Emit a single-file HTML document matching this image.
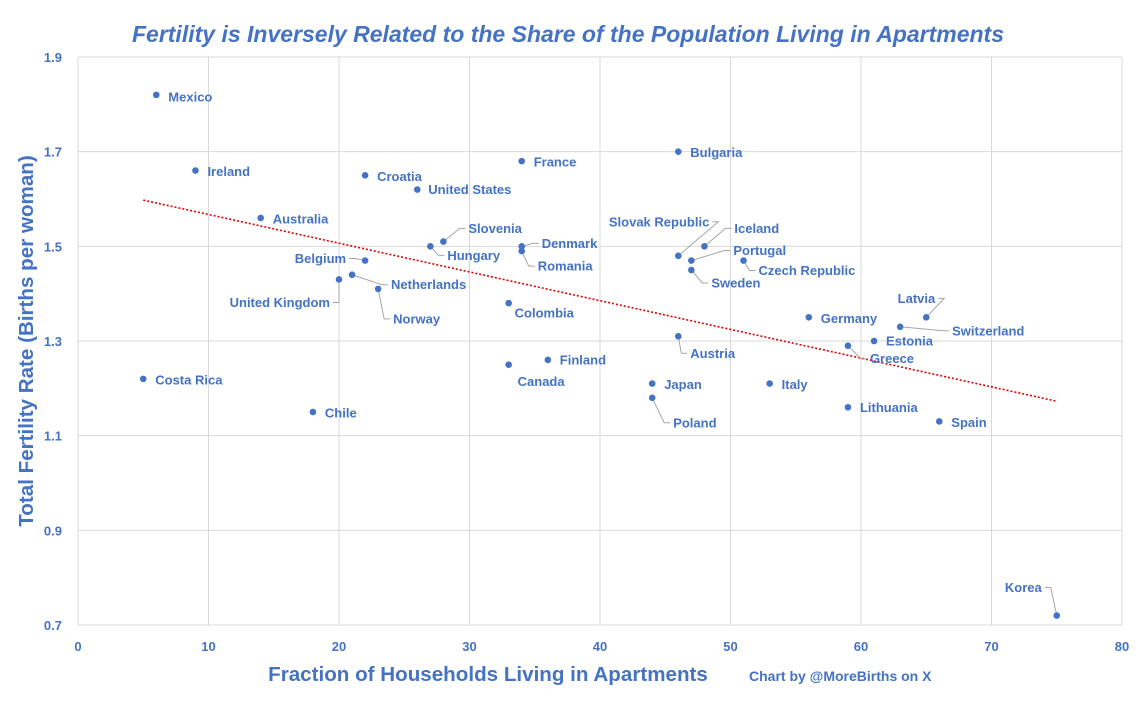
<!DOCTYPE html>
<html><head><meta charset="utf-8"><style>
body{margin:0;background:#fff;font-family:"Liberation Sans",Arial,sans-serif}
svg text{font-family:"Liberation Sans",Arial,sans-serif}
</style></head><body>
<svg id="c" width="1138" height="697" xmlns="http://www.w3.org/2000/svg">
<text x="568" y="42" text-anchor="middle" font-size="23" font-weight="bold" font-style="italic" fill="#4472C4">Fertility is Inversely Related to the Share of the Population Living in Apartments</text>
<g id="grid"></g><g id="ticks"></g><g id="trend"></g><g id="leaders"></g><g id="pts"></g><g id="labels"></g>
<text x="488" y="681" text-anchor="middle" font-size="20.6" font-weight="bold" fill="#4472C4">Fraction of Households Living in Apartments</text>
<text transform="translate(33,341) rotate(-90)" text-anchor="middle" font-size="20.6" font-weight="bold" fill="#4472C4">Total Fertility Rate (Births per woman)</text>
<text x="749" y="681" font-size="14" font-weight="bold" fill="#4472C4">Chart by @MoreBirths on X</text>
</svg>
<script>
const countries=["Mexico","Ireland","Australia","Croatia","United States","France","Bulgaria","Slovenia","Hungary","Denmark","Romania","Belgium","Netherlands","United Kingdom","Norway","Colombia","Slovak Republic","Iceland","Portugal","Sweden","Czech Republic","Germany","Latvia","Switzerland","Estonia","Greece","Austria","Finland","Canada","Japan","Poland","Italy","Lithuania","Spain","Costa Rica","Chile","Korea"];
const apartmentShare=[6,9,14,22,26,34,46,28,27,34,34,22,21,20,23,33,46,48,47,47,51,56,65,63,61,59,46,36,33,44,44,53,59,66,5,18,75];
const fertility=[1.82,1.66,1.56,1.65,1.62,1.68,1.70,1.51,1.50,1.50,1.49,1.47,1.44,1.43,1.41,1.38,1.48,1.50,1.47,1.45,1.47,1.35,1.35,1.33,1.30,1.29,1.31,1.26,1.25,1.21,1.18,1.21,1.16,1.13,1.22,1.15,0.72];
const xTicks=[0,10,20,30,40,50,60,70,80];
const yTicks=[0.7,0.9,1.1,1.3,1.5,1.7,1.9];
// label layout offsets [dx,dy,anchor,leader]
const labelLayout=[[12,2,"s",0],[12,1,"s",0],[12,1,"s",0],[12,1,"s",0],[11,0,"s",0],[12,1,"s",0],[12,1,"s",0],[25,-13,"s",1],[17,9,"s",1],[20,-3,"s",1],[16,15,"s",1],[-19,-2,"e",1],[39,10,"s",1],[-9,23,"e",1],[15,30,"s",1],[6,10,"s",0],[31,-34,"e",1],[30,-18,"s",1],[42,-10,"s",1],[20,13,"s",1],[15,10,"s",1],[12,1,"s",0],[9,-19,"e",1],[52,4,"s",1],[12,0,"s",0],[22,13,"s",1],[12,17,"s",1],[12,0,"s",0],[9,17,"s",0],[12,1,"s",0],[21,25,"s",1],[12,1,"s",0],[12,0,"s",0],[12,1,"s",0],[12,1,"s",0],[12,1,"s",0],[-15,-28,"e",1]];
const X=v=>78+v*(1122-78)/80, Y=v=>625-(v-0.7)*(625-57)/1.2;
const NS="http://www.w3.org/2000/svg";
function mk(t,a,p){const e=document.createElementNS(NS,t);for(const k in a)e.setAttribute(k,a[k]);document.getElementById(p).appendChild(e);return e;}
xTicks.forEach(t=>{const l=mk("line",{x1:X(t),x2:X(t),y1:57,y2:625,stroke:"#d9d9d9"},"grid");


const tx=mk("text",{x:X(t),y:651,"text-anchor":"middle","font-size":13,"font-weight":"bold",fill:"#4472C4"},"ticks");tx.textContent=t;

});
yTicks.forEach(t=>{const l=mk("line",{x1:78,x2:1122,y1:Y(t),y2:Y(t),stroke:"#d9d9d9"},"grid");


const tx=mk("text",{x:62,y:Y(t)+5,"text-anchor":"end","font-size":13,"font-weight":"bold",fill:"#4472C4"},"ticks");tx.textContent=t.toFixed(1);

});
const n=apartmentShare.length;let mx=0,my=0;for(let i=0;i<n;i++){mx+=apartmentShare[i];my+=fertility[i];}mx/=n;my/=n;
let sxy=0,sxx=0;for(let i=0;i<n;i++){sxy+=(apartmentShare[i]-mx)*(fertility[i]-my);sxx+=(apartmentShare[i]-mx)**2;}
const b=sxy/sxx,a=my-b*mx;const x0=Math.min(...apartmentShare),x1=Math.max(...apartmentShare);
const tl=mk("line",{x1:X(x0),y1:Y(a+b*x0),x2:X(x1),y2:Y(a+b*x1),stroke:"#e00000","stroke-width":1.6,"stroke-dasharray":"2,2"},"trend");


for(let i=0;i<n;i++){const px=X(apartmentShare[i]),py=Y(fertility[i]);const L=labelLayout[i];
const c=mk("circle",{cx:px,cy:py,r:3.3,fill:"#4472C4"},"pts");


const lx=px+L[0],ly=py+L[1];
if(L[3]){const ex=L[2]==="e"?lx+3:lx-3;const mxp=L[2]==="e"?ex+6:ex-6;
const pl=mk("polyline",{points:`${px},${py} ${mxp},${ly} ${ex},${ly}`,fill:"none",stroke:"#a6a6a6","stroke-width":1},"leaders");

}
const t=mk("text",{x:lx,y:ly+4.5,"text-anchor":L[2]==="e"?"end":"start","font-size":13,"font-weight":"bold",fill:"#4472C4"},"labels");t.textContent=countries[i];

}
</script></body></html>
